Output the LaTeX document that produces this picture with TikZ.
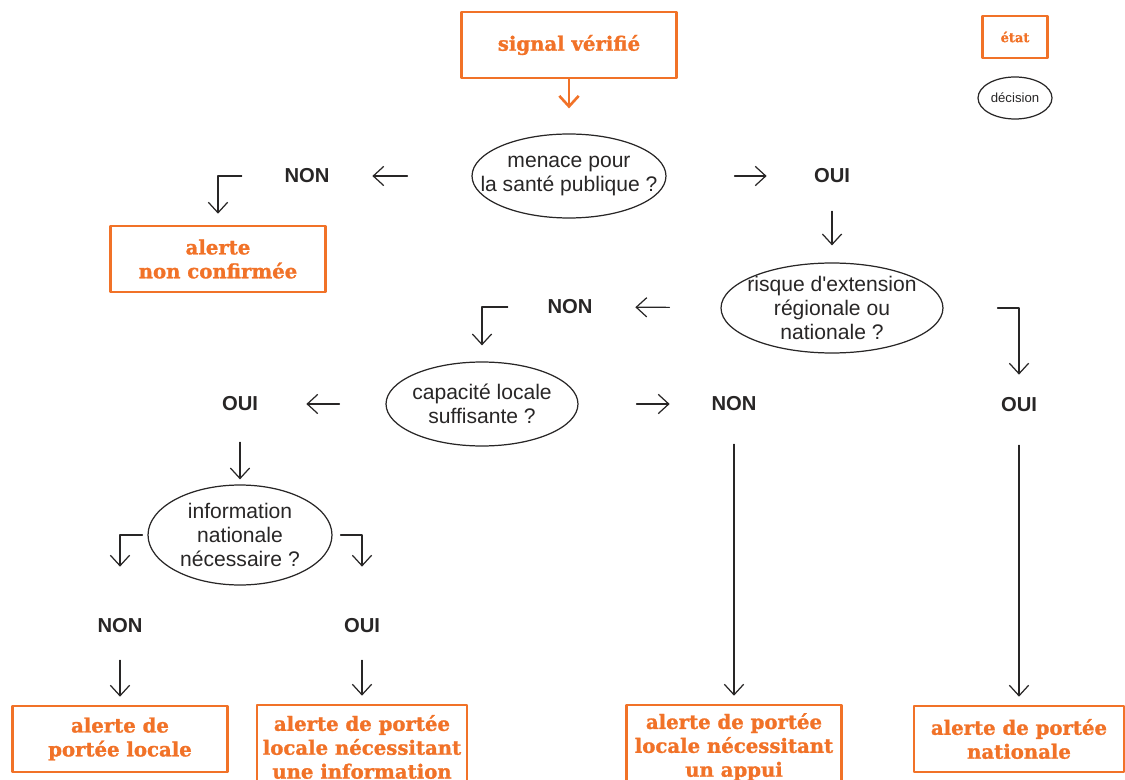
\documentclass[tikz,border=0pt]{standalone}
\usepackage{fontspec}
\setmainfont{Liberation Sans}
\newfontfamily\slab{DejaVu Serif}[BoldFeatures={FakeBold=1.3}]
\usetikzlibrary{arrows.meta,shapes.geometric}
\definecolor{orng}{RGB}{241,114,40}
\definecolor{ink}{RGB}{40,38,38}
\begin{document}
\begin{tikzpicture}[x=0.02cm, y=-0.02cm, line join=round, line cap=round, >={Straight Barb[length=6pt,width=11pt]},
  etat/.style={draw=orng, line width=1.5pt, text=orng, font=\slab\bfseries\fontsize{11.2}{13.6}\selectfont, align=center, minimum width=4.3cm, minimum height=1.32cm, inner sep=0},
  dec/.style={ellipse, draw=ink, line width=0.7pt, text=ink, font=\fontsize{12}{13.6}\selectfont, align=center, inner sep=-2cm},
  rep/.style={text=ink, font=\bfseries\fontsize{11.5}{13.6}\selectfont, minimum width=2cm, minimum height=0.6cm, inner sep=0},
  arr/.style={->, draw=ink, line width=0.7pt}]
\useasboundingbox (0,0) rectangle (1125,780);
\clip (0,0) rectangle (1125,780);
\node[etat] (S) at (569,45) {signal vérifié};
\node[dec, minimum width=3.88cm, minimum height=1.68cm] (D1) at (569,176) {menace pour\\la santé publique ?};
\node[rep] (N1) at (307,176) {NON};
\node[rep] (O1) at (832,176) {OUI};
\node[etat] (B1) at (218,259) {alerte\\non confirmée};
\node[dec, minimum width=4.44cm, minimum height=1.8cm] (D2) at (832,308) {risque d\textquotesingle extension\\régionale ou\\nationale ?};
\node[rep] (N2) at (570,307) {NON};
\node[rep] (O2) at (1019,405) {OUI};
\node[dec, minimum width=3.84cm, minimum height=1.68cm] (D3) at (482,404) {capacité locale\\suffisante ?};
\node[rep] (O3) at (240,404) {OUI};
\node[rep] (N3) at (734,404) {NON};
\node[dec, minimum width=3.68cm, minimum height=2cm] (D4) at (240,535) {information\\nationale\\nécessaire ?};
\node[rep] (N4) at (120,626) {NON};
\node[rep] (O4) at (362,626) {OUI};
\node[etat] (B2) at (120,739) {alerte de\\portée locale};
\node[etat, minimum width=4.2cm, minimum height=1.68cm] (B3) at (362,747) {alerte de portée\\locale nécessitant\\une information};
\node[etat, minimum height=1.68cm] (B4) at (734,747) {alerte de portée\\locale nécessitant\\un appui};
\node[etat, minimum width=4.2cm] (B5) at (1019,739) {alerte de portée\\nationale};
\node[etat, font=\slab\bfseries\fontsize{7.4}{9}\selectfont, minimum width=1.3cm, minimum height=0.84cm, line width=1.2pt] (LE) at (1015,37) {état};
\node[dec, font=\fontsize{7.5}{9}\selectfont, minimum width=1.48cm, minimum height=0.84cm] (LD) at (1015,98) {décision};
\draw[arr, draw=orng, line width=1.5pt, shorten >=0.5cm] (S) -- (D1);
\draw[arr, shorten <=1.28cm, shorten >=0.3cm] (D1) -- (N1);
\draw[arr, shorten <=1.36cm, shorten >=0.3cm] (D1) -- (O1);
\draw[arr, shorten >=0.22cm] ([xshift=-0.3cm]N1.west) -| (B1);
\draw[arr, shorten <=0.4cm, shorten >=0.34cm] (O1) -- (D2);
\draw[arr, shorten <=1.02cm, shorten >=0.3cm] (D2) -- (N2);
\draw[arr, shorten >=0.3cm] ([xshift=1.08cm]D2.east) -| (O2);
\draw[arr, shorten >=0.32cm] ([xshift=-0.24cm]N2.west) -| (D3);
\draw[arr, shorten <=0.92cm, shorten >=0.32cm] (D3) -- (O3);
\draw[arr, shorten <=1.16cm, shorten >=0.28cm] (D3) -- (N3);
\draw[arr, shorten <=0.46cm, shorten >=0.1cm] (O3) -- (D4);
\draw[arr, shorten >=0.88cm] ([xshift=-0.1cm]D4.west) -| (N4);
\draw[arr, shorten >=0.88cm] ([xshift=0.16cm]D4.east) -| (O4);
\foreach \a/\b in {N4/B2,O4/B3} \draw[arr, shorten <=0.38cm, shorten >=0.16cm] (\a) -- (\b);
\foreach \a/\b in {N3/B4,O2/B5} \draw[arr, shorten <=0.5cm, shorten >=0.16cm] (\a) -- (\b);
\end{tikzpicture}
\end{document}
